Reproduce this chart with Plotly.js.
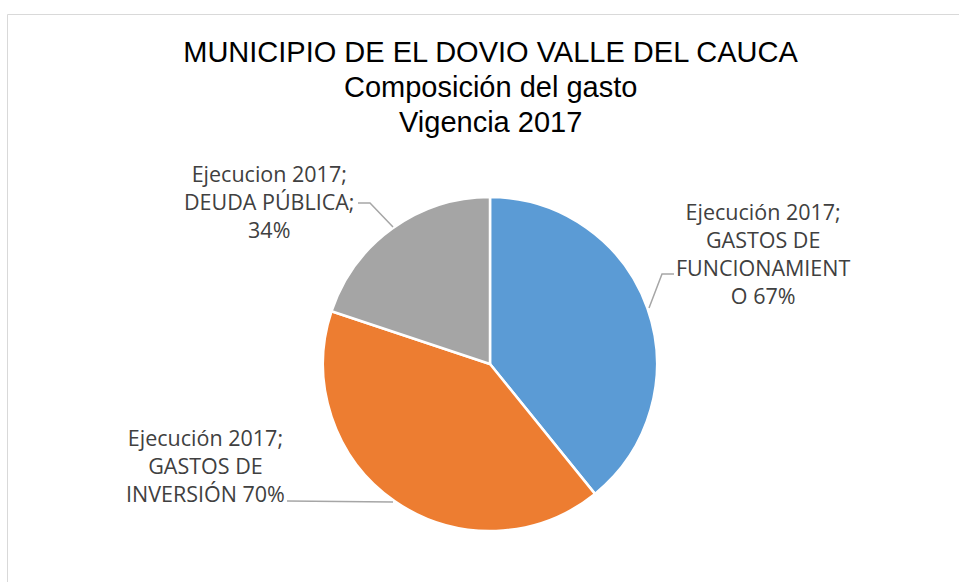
<!DOCTYPE html>
<html>
<head>
<meta charset="utf-8">
<script src="https://cdn.plot.ly/plotly-3.0.1.min.js"></script>
<style>html,body{margin:0;padding:0;background:#fff;}#chart{width:959px;height:582px;}</style>
</head>
<body>
<div id="chart"></div>
<script>
// Data
var categories = ['GASTOS DE FUNCIONAMIENTO', 'GASTOS DE INVERSIÓN', 'DEUDA PÚBLICA'];
var values = [67, 70, 34];
var sliceColors = ['#5B9BD5', '#ED7D31', '#A5A5A5'];
var labelTexts = [
  'Ejecución 2017;<br>GASTOS DE<br>FUNCIONAMIENT<br>O 67%',
  'Ejecución 2017;<br>GASTOS DE<br>INVERSIÓN 70%',
  'Ejecucion 2017;<br>DEUDA PÚBLICA;<br>34%'
];
var titleLines = ['MUNICIPIO DE EL DOVIO VALLE DEL CAUCA', 'Composición del gasto', 'Vigencia 2017'];

var W = 959, H = 582;
function px(x){ return x / W; }
function py(y){ return 1 - y / H; }

// label placement (pixel centres) and leader lines
var labelPos = [[763, 253], [205, 465], [269, 201]];
var leaders = [
  [[674, 274], [662, 274], [649, 308]],
  [[287, 501], [393, 502]],
  [[358, 203], [370, 203], [393, 227]]
];
// title line centres (pixels from top); the reference uses a tighter line spacing than Plotly's
var titleY = [52, 87, 122];

var cx = 490, cy = 364, r = 167;

var trace = {
  type: 'pie',
  labels: categories,
  values: values,
  sort: false,
  direction: 'clockwise',
  rotation: 0,
  textinfo: 'none',
  hoverinfo: 'label+value',
  marker: { colors: sliceColors, line: { color: '#FFFFFF', width: 2.5 } },
  domain: { x: [px(cx - r), px(cx + r)], y: [py(cy + r), py(cy - r)] },
  showlegend: false
};

var titleFont = { family: 'Liberation Sans, Arial, sans-serif', size: 29, color: '#000000' };

var annotations = labelTexts.map(function(t, i){
  return {
    text: t, xref: 'paper', yref: 'paper',
    x: px(labelPos[i][0]), y: py(labelPos[i][1]),
    xanchor: 'center', yanchor: 'middle', align: 'center', showarrow: false,
    font: { family: 'Open Sans, sans-serif', size: 21.5, color: '#404040' }
  };
});
titleLines.slice(1).forEach(function(t, i){
  annotations.push({
    text: t, xref: 'paper', yref: 'paper',
    x: px(490.5), y: py(titleY[i + 1]),
    xanchor: 'center', yanchor: 'middle', showarrow: false, font: titleFont
  });
});

var shapes = leaders.map(function(pts){
  var d = pts.map(function(p, j){ return (j ? 'L' : 'M') + px(p[0]) + ',' + py(p[1]); }).join(' ');
  return { type: 'path', xref: 'paper', yref: 'paper', path: d, line: { color: '#A6A6A6', width: 1.5 } };
});
shapes.push({ type: 'rect', xref: 'paper', yref: 'paper', x0: px(7.5), x1: 1.02, y0: -0.02, y1: py(14.5),
  line: { color: '#D9D9D9', width: 1 }, fillcolor: 'rgba(0,0,0,0)' });

var layout = {
  width: W, height: H,
  margin: { l: 0, r: 0, t: 0, b: 0 },
  paper_bgcolor: '#FFFFFF',
  title: {
    text: titleLines[0],
    font: titleFont,
    x: px(490.5), xanchor: 'center', xref: 'paper',
    y: py(titleY[0]), yanchor: 'middle', yref: 'container'
  },
  annotations: annotations,
  shapes: shapes
};

Plotly.newPlot('chart', [trace], layout, { staticPlot: true, displayModeBar: false });
</script>
</body>
</html>
